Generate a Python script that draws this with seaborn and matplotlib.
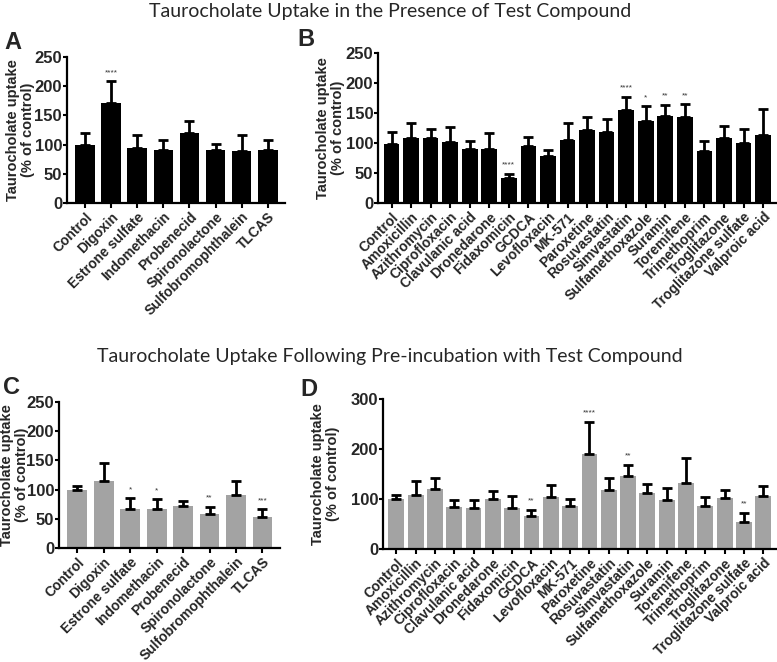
import numpy as np
import pandas as pd
import matplotlib
matplotlib.use("Agg")
import matplotlib.pyplot as plt
import seaborn as sns

# ---------------- data ----------------
cmp_ac = ["Control", "Digoxin", "Estrone sulfate", "Indomethacin", "Probenecid",
          "Spironolactone", "Sulfobromophthalein", "TLCAS"]
cmp_bd = ["Control", "Amoxicillin", "Azithromycin", "Ciprofloxacin", "Clavulanic acid",
          "Dronedarone", "Fidaxomicin", "GCDCA", "Levofloxacin", "MK-571", "Paroxetine",
          "Rosuvastatin", "Simvastatin", "Sulfamethoxazole", "Suramin", "Toremifene",
          "Trimethoprim", "Troglitazone", "Troglitazone sulfate", "Valproic acid"]

mean_a = [100, 172, 95, 90, 120, 90, 89, 90]
err_a = [20, 37, 21, 17, 20, 11, 27, 17]
stars_a = ["", "****", "", "", "", "", "", ""]

mean_b = [99, 109, 108, 101, 90, 90, 41, 95, 78, 105, 121, 118, 155, 136, 145, 144, 87, 108, 100, 114]
err_b = [19, 24, 16, 26, 13, 26, 8, 15, 10, 28, 22, 22, 22, 25, 19, 21, 16, 20, 23, 43]
stars_b = ["", "", "", "", "", "", "****", "", "", "", "", "", "****", "*", "**", "**", "", "", "", ""]

mean_c = [99, 115, 67, 67, 72, 58, 90, 53]
err_c = [8, 31, 18, 17, 9, 13, 24, 13]
stars_c = ["", "", "*", "*", "", "**", "", "***"]

mean_d = [99, 108, 119, 83, 81, 99, 82, 66, 103, 86, 190, 117, 146, 112, 98, 132, 86, 102, 53, 106]
err_d = [9, 27, 22, 14, 16, 16, 23, 11, 25, 13, 63, 24, 21, 18, 24, 49, 17, 15, 18, 19]
stars_d = ["", "", "", "", "", "", "", "**", "", "", "****", "", "**", "", "", "", "", "", "**", ""]

title_top = "Taurocholate Uptake in the Presence of Test Compound"
title_bot = "Taurocholate Uptake Following Pre-incubation with Test Compound"
ylab = "Taurocholate uptake\n(% of control)"

# ---------------- style ----------------
sns.set_style("ticks")
plt.rcParams["font.family"] = ["Liberation Sans", "DejaVu Sans"]

fig = plt.figure(figsize=(7.77, 6.62), dpi=100)

BLACK = "#000000"
GRAY = "#a3a3a3"

panels = [
    dict(letter="A", names=cmp_ac, mean=mean_a, err=err_a, stars=stars_a, color=BLACK,
         rect=[0.0862, 0.6934, 0.2806, 0.2205], ylim=250, step=50, width=0.75,
         labx=-0.148, letpos=(0.006, 0.936), off=14),
    dict(letter="B", names=cmp_bd, mean=mean_b, err=err_b, stars=stars_b, color=BLACK,
         rect=[0.4865, 0.6934, 0.5122, 0.2266], ylim=250, step=50, width=0.8,
         labx=-0.082, letpos=(0.383, 0.94), off=14),
    dict(letter="C", names=cmp_ac, mean=mean_c, err=err_c, stars=stars_c, color=GRAY,
         rect=[0.0759, 0.1722, 0.2844, 0.2205], ylim=250, step=50, width=0.75,
         labx=-0.135, letpos=(0.004, 0.414), off=14),
    dict(letter="D", names=cmp_bd, mean=mean_d, err=err_d, stars=stars_d, color=GRAY,
         rect=[0.4929, 0.1707, 0.5058, 0.2266], ylim=300, step=100, width=0.82,
         labx=-0.11, letpos=(0.386, 0.412), off=20),
]

for p in panels:
    ax = fig.add_axes(p["rect"])
    df = pd.DataFrame({"compound": p["names"], "value": p["mean"]})
    sns.barplot(data=df, x="compound", y="value", color=p["color"], saturation=1,
                errorbar=None, width=p["width"], ax=ax, edgecolor="none", linewidth=0)
    xs = np.arange(len(p["names"]))
    ax.errorbar(xs, p["mean"], yerr=[np.zeros(len(xs)), p["err"]], fmt="none",
                ecolor="black", elinewidth=2.0, capsize=3.8, capthick=2.0, zorder=3)
    for x, m, e, s in zip(xs, p["mean"], p["err"], p["stars"]):
        if s:
            ax.text(x, m + e + p["off"], s, ha="center", va="center", fontsize=6,
                    color="#333333")
    n = len(p["names"])
    ax.set_xlim(-0.69, n - 1 + 0.66)
    ax.set_ylim(0, p["ylim"])
    ax.set_yticks(np.arange(0, p["ylim"] + 1, p["step"]))
    ax.set_xlabel("")
    ax.set_ylabel(ylab, fontsize=10.5, fontweight="bold", linespacing=1.1)
    ax.yaxis.set_label_coords(p["labx"], 0.5)
    ax.set_xticks(xs)
    ax.set_xticklabels(p["names"], rotation=45, ha="right", rotation_mode="anchor",
                       fontsize=10, fontweight="bold")
    for lab in ax.get_yticklabels():
        lab.set_fontweight("bold")
        lab.set_fontsize(12)
    ax.tick_params(axis="x", direction="out", width=1.5, length=3.5, color="black", pad=1.5)
    ax.tick_params(axis="y", direction="out", width=1.5, length=3, color="black", pad=0.5)
    for side in ["right", "top"]:
        ax.spines[side].set_visible(False)
    for side in ["left", "bottom"]:
        ax.spines[side].set_linewidth(1.6)
        ax.spines[side].set_color("black")
    ax.grid(False)
    fig.text(p["letpos"][0], p["letpos"][1], p["letter"], fontsize=17, fontweight="bold",
             ha="left", va="center")

fig.text(0.502, 0.982, title_top, ha="center", va="center", fontsize=14,
         family=["Lato", "DejaVu Sans"])
fig.text(0.502, 0.461, title_bot, ha="center", va="center", fontsize=14,
         family=["Lato", "DejaVu Sans"])

fig.savefig("out.png", dpi=100, facecolor="white")
